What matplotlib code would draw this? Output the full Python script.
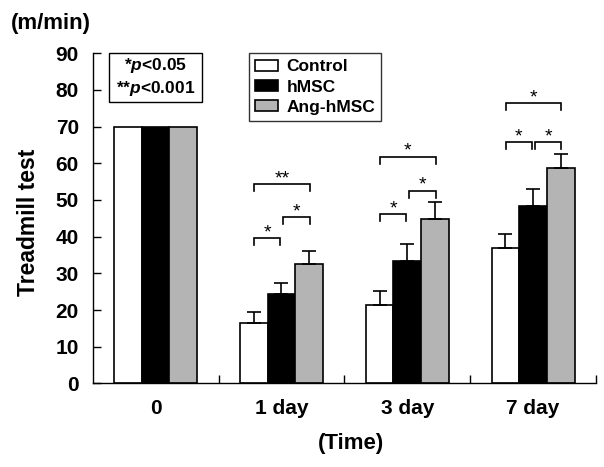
import numpy as np
import matplotlib
matplotlib.use("Agg")
from matplotlib import pyplot as plt
from matplotlib.patches import Rectangle

plt.rcParams['font.family'] = ['Liberation Sans', 'DejaVu Sans']
plt.rcParams['font.weight'] = 'bold'
plt.rcParams['mathtext.fontset'] = 'custom'
plt.rcParams['mathtext.it'] = 'Liberation Sans:italic:bold'
plt.rcParams['mathtext.rm'] = 'Liberation Sans:bold'

# data
times = ['0', '1 day', '3 day', '7 day']
groups = ['Control', 'hMSC', 'Ang-hMSC']
control = [70, 16.6, 21.5, 37.0]
control_err = [0, 2.8, 3.8, 3.7]
hmsc = [70, 24.3, 33.4, 48.4]
hmsc_err = [0, 3.2, 4.6, 4.5]
ang = [70, 32.5, 44.9, 58.8]
ang_err = [0, 3.7, 4.5, 3.8]
colors = ['white', 'black', '#b4b4b4']

# significance brackets: (time index, left bar, right bar, height, label)
brackets = [
    (1, 0, 1, 39.5, '*'), (1, 1, 2, 45.3, '*'), (1, 0, 2, 54.3, '**'),
    (2, 0, 1, 46.1, '*'), (2, 1, 2, 52.5, '*'), (2, 0, 2, 61.8, '*'),
    (3, 0, 1, 65.7, '*'), (3, 1, 2, 65.7, '*'), (3, 0, 2, 76.4, '*'),
]

fig = plt.figure(figsize=(6.04, 4.67), dpi=100)
ax = fig.add_axes([0.1535, 0.179, 0.8333, 0.707])

x = np.arange(len(times))
w = 0.22
series = [(control, control_err), (hmsc, hmsc_err), (ang, ang_err)]
for k, (vals, errs) in enumerate(series):
    pos = x + (k - 1) * w
    ax.bar(pos, vals, w, color=colors[k], edgecolor='black', linewidth=1.2,
           label=groups[k], zorder=2)
    for p, v, e in zip(pos, vals, errs):
        if e > 0:
            ax.errorbar(p, v, yerr=[[0], [e]], fmt='none', ecolor='black',
                        elinewidth=1.2, capsize=5, capthick=1.2, zorder=3)

drop = 1.9
for t, i, j, yb, lab in brackets:
    x0 = t + (i - 1) * w + (0.012 if i == 1 else 0.005)
    x1 = t + (j - 1) * w - (0.012 if j == 1 else -0.005)
    ax.plot([x0, x0, x1, x1], [yb - drop, yb, yb, yb - drop], color='black',
            lw=1.2, solid_joinstyle='miter')
    ax.text((x0 + x1) / 2, yb + 0.3, lab, ha='center', va='baseline',
            fontsize=14, fontweight='normal')

ax.set_xlim(-0.5, 3.5)
ax.set_ylim(0, 90)
ax.set_yticks(np.arange(0, 91, 10))
ax.set_xticks(x)
ax.set_xticklabels(times)
ax.set_xticks(np.arange(0.5, 3.6, 1), minor=True)
ax.tick_params(axis='x', which='major', length=0, pad=11, labelsize=15)
ax.tick_params(axis='x', which='minor', direction='in', length=6, width=1)
ax.tick_params(axis='y', direction='in', length=6, width=1, pad=10, labelsize=15)
for s in ['top', 'right']:
    ax.spines[s].set_visible(False)
for s in ['left', 'bottom']:
    ax.spines[s].set_linewidth(1.0)

leg = ax.legend(loc='upper left', bbox_to_anchor=(0.311, 1.0), borderaxespad=0,
                fontsize=12.5, frameon=True, fancybox=False, edgecolor='black',
                handlelength=1.3, handleheight=0.6, handletextpad=0.5,
                labelspacing=0.3, borderpad=0.35)
leg.get_frame().set_linewidth(1.0)

# p-value key box
ax.add_patch(Rectangle((0.033, 0.853), 0.1835, 0.147, transform=ax.transAxes,
                       fill=False, edgecolor='black', lw=1.0, clip_on=False))
ax.text(0.125, 0.963, r'*$\mathit{p}$<0.05', transform=ax.transAxes,
        ha='center', va='center', fontsize=12.5)
ax.text(0.125, 0.893, r'**$\mathit{p}$<0.001', transform=ax.transAxes,
        ha='center', va='center', fontsize=12.5)

fig.text(51 / 604, 1 - 23 / 467, '(m/min)', ha='center', va='center', fontsize=16)
fig.text(29 / 604, 1 - 222 / 467, 'Treadmill test', ha='center', va='center',
         rotation=90, fontsize=16.5)
fig.text(351 / 604, 1 - 444 / 467, '(Time)', ha='center', va='center', fontsize=16)

fig.savefig('out.png', dpi=100)
